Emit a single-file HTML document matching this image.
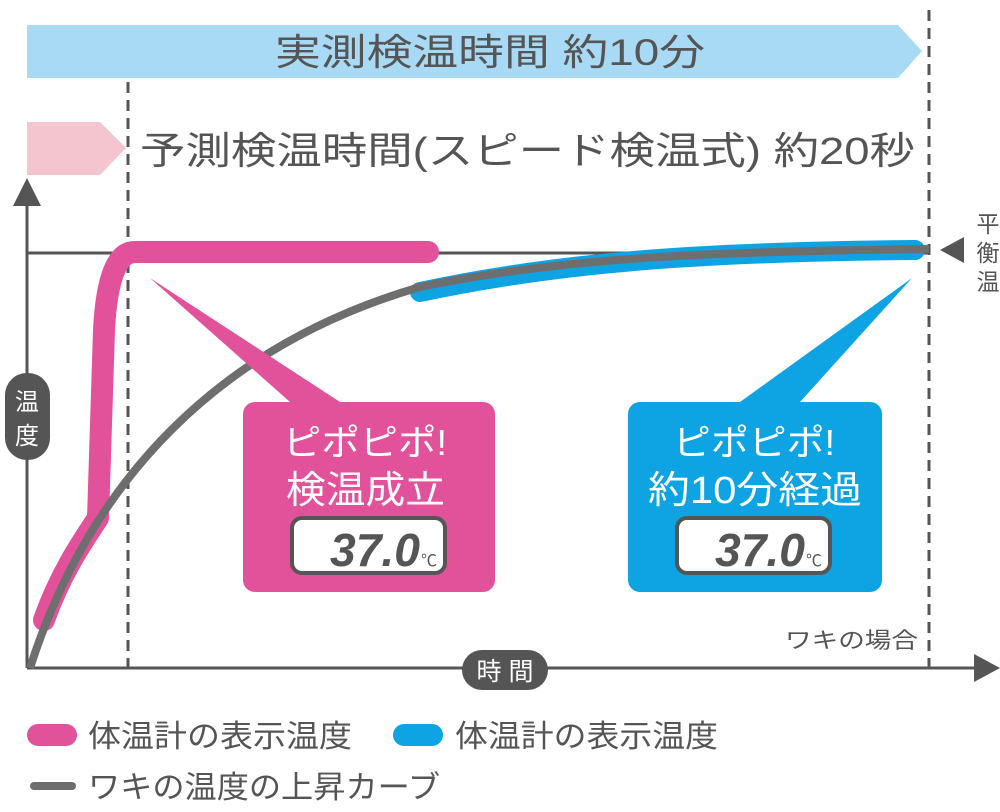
<!DOCTYPE html>
<html><head><meta charset="utf-8"><style>
html,body{margin:0;padding:0;background:#fff;}
svg{display:block;}
text{font-family:"Liberation Sans","Noto Sans CJK JP",sans-serif;}
</style></head><body>
<svg width="1000" height="812" viewBox="0 0 1000 812" xmlns="http://www.w3.org/2000/svg">
<polygon points="27,25 898,25 922,51 898,78 27,78" fill="#a9daf5"/>
<text x="275" y="65" font-size="37" fill="#555" textLength="430" lengthAdjust="spacingAndGlyphs">実測検温時間 約10分</text>
<polygon points="27,122 100,122 126,148 100,175 27,175" fill="#f5c5cf"/>
<text x="140" y="164" font-size="38" fill="#555" textLength="775" lengthAdjust="spacingAndGlyphs">予測検温時間(スピード検温式) 約20秒</text>
<line x1="128" y1="82" x2="128" y2="668" stroke="#555" stroke-width="3" stroke-dasharray="11,7"/>
<line x1="929" y1="10" x2="929" y2="668" stroke="#555" stroke-width="3" stroke-dasharray="11,7"/>
<line x1="27" y1="200" x2="27" y2="668" stroke="#555" stroke-width="3"/>
<polygon points="27,178 13,206 41,206" fill="#555"/>
<line x1="27" y1="668" x2="985" y2="668" stroke="#555" stroke-width="3"/>
<polygon points="1000,668 974,654 974,682" fill="#555"/>
<line x1="27" y1="253" x2="930" y2="253" stroke="#555" stroke-width="3"/>
<polygon points="940,250 964,237 964,263" fill="#555"/>
<text x="988" y="232" font-size="23" fill="#555" text-anchor="middle">平</text>
<text x="988" y="261" font-size="23" fill="#555" text-anchor="middle">衡</text>
<text x="988" y="290" font-size="23" fill="#555" text-anchor="middle">温</text>
<path d="M44,620 C60,575 80,545 98,518 L104,330 Q108,252 135,252 L428,252" fill="none" stroke="#e2529a" stroke-width="22" stroke-linecap="round" stroke-linejoin="round"/>
<path d="M420,292 C560,262 700,252 915,250" fill="none" stroke="#0ea3e3" stroke-width="20" stroke-linecap="round"/>
<path d="M30,668 C90,480 220,345 420,287 C560,258 700,252 929,249" fill="none" stroke="#6e6e6e" stroke-width="8"/>
<polygon points="150,278 340,402 290,402" fill="#e2529a"/>
<rect x="243" y="402" width="252" height="190" rx="12" fill="#e2529a"/>
<text x="283" y="455" font-size="36" fill="#fff" textLength="164" lengthAdjust="spacingAndGlyphs">ピポピポ!</text>
<text x="286" y="503" font-size="38" fill="#fff" textLength="159" lengthAdjust="spacingAndGlyphs">検温成立</text>
<rect x="292" y="518" width="153" height="55" rx="10" fill="#fff" stroke="#555" stroke-width="4"/>
<text x="420" y="566" font-size="46" fill="#555" text-anchor="end" font-style="italic" font-weight="bold" textLength="90" lengthAdjust="spacingAndGlyphs">37.0</text>
<text x="421" y="566" font-size="16" fill="#555">℃</text>
<polygon points="912,278 800,402 740,402" fill="#0ea3e3"/>
<rect x="628" y="402" width="254" height="190" rx="12" fill="#0ea3e3"/>
<text x="673" y="455" font-size="36" fill="#fff" textLength="162" lengthAdjust="spacingAndGlyphs">ピポピポ!</text>
<text x="648" y="503" font-size="38" fill="#fff" textLength="214" lengthAdjust="spacingAndGlyphs">約10分経過</text>
<rect x="677" y="518" width="153" height="55" rx="10" fill="#fff" stroke="#555" stroke-width="4"/>
<text x="805" y="566" font-size="46" fill="#555" text-anchor="end" font-style="italic" font-weight="bold" textLength="90" lengthAdjust="spacingAndGlyphs">37.0</text>
<text x="806" y="566" font-size="16" fill="#555">℃</text>
<text x="785" y="648" font-size="22" fill="#555" textLength="133" lengthAdjust="spacingAndGlyphs">ワキの場合</text>
<rect x="5" y="373" width="45" height="87" rx="22" fill="#555"/>
<text x="27" y="410" font-size="24" fill="#fff" text-anchor="middle">温</text>
<text x="27" y="444" font-size="24" fill="#fff" text-anchor="middle">度</text>
<rect x="462" y="650" width="86" height="40" rx="20" fill="#555"/>
<text x="505" y="680" font-size="25" fill="#fff" text-anchor="middle">時 間</text>
<line x1="38" y1="735" x2="66" y2="735" stroke="#e2529a" stroke-width="22" stroke-linecap="round"/>
<text x="88" y="747" font-size="31" fill="#555" textLength="264" lengthAdjust="spacingAndGlyphs">体温計の表示温度</text>
<line x1="404" y1="735" x2="432" y2="735" stroke="#0ea3e3" stroke-width="22" stroke-linecap="round"/>
<text x="455" y="747" font-size="31" fill="#555" textLength="263" lengthAdjust="spacingAndGlyphs">体温計の表示温度</text>
<line x1="34" y1="786" x2="72" y2="786" stroke="#6e6e6e" stroke-width="8" stroke-linecap="round"/>
<text x="88" y="798" font-size="31" fill="#555" textLength="352" lengthAdjust="spacingAndGlyphs">ワキの温度の上昇カーブ</text>
</svg>
</body></html>
